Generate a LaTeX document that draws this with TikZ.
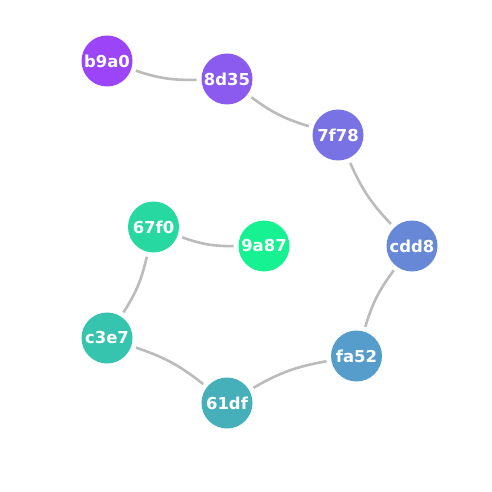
\documentclass[tikz,border=0pt]{standalone}
\usepackage{fontspec}
\setmainfont{DejaVu Sans}
\definecolor{cb9a0}{HTML}{9B44F8}
\definecolor{c8d35}{HTML}{8B5BF0}
\definecolor{c7f78}{HTML}{7872E5}
\definecolor{ccdd8}{HTML}{6787D7}
\definecolor{cfa52}{HTML}{579DCB}
\definecolor{c61df}{HTML}{45AFBA}
\definecolor{cc3e7}{HTML}{37C4AF}
\definecolor{c67f0}{HTML}{27D9A0}
\definecolor{c9a87}{HTML}{16F192}
\definecolor{edgegray}{HTML}{BBBBBB}
\tikzset{
  vtx/.style={circle, minimum size=51bp, inner sep=0pt, outer sep=5bp, fill=#1,
    text=white, font=\fontsize{16.5}{17}\selectfont\bfseries},
  link/.style={draw=edgegray, line width=2.6bp, bend right=10}
}
\begin{document}
\begin{tikzpicture}[x=1bp,y=-1bp]
\useasboundingbox (0,0) rectangle (492,492);
\node[vtx=cb9a0] (b9a0) at (107,61) {b9a0};
\node[vtx=c8d35] (8d35) at (227,79) {8d35};
\node[vtx=c7f78] (7f78) at (338,135) {7f78};
\node[vtx=ccdd8] (cdd8) at (412,246) {cdd8};
\node[vtx=cfa52] (fa52) at (356.5,356) {fa52};
\node[vtx=c61df] (61df) at (227,403) {61df};
\node[vtx=cc3e7] (c3e7) at (107,338) {c3e7};
\node[vtx=c67f0] (67f0) at (153.5,227) {67f0};
\node[vtx=c9a87] (9a87) at (264,246) {9a87};
\draw[link] (b9a0) to (8d35);
\draw[link] (8d35) to (7f78);
\draw[link] (7f78) to (cdd8);
\draw[link] (cdd8) to (fa52);
\draw[link] (fa52) to (61df);
\draw[link] (61df) to (c3e7);
\draw[link] (c3e7) to (67f0);
\draw[link] (67f0) to (9a87);
\end{tikzpicture}
\end{document}
